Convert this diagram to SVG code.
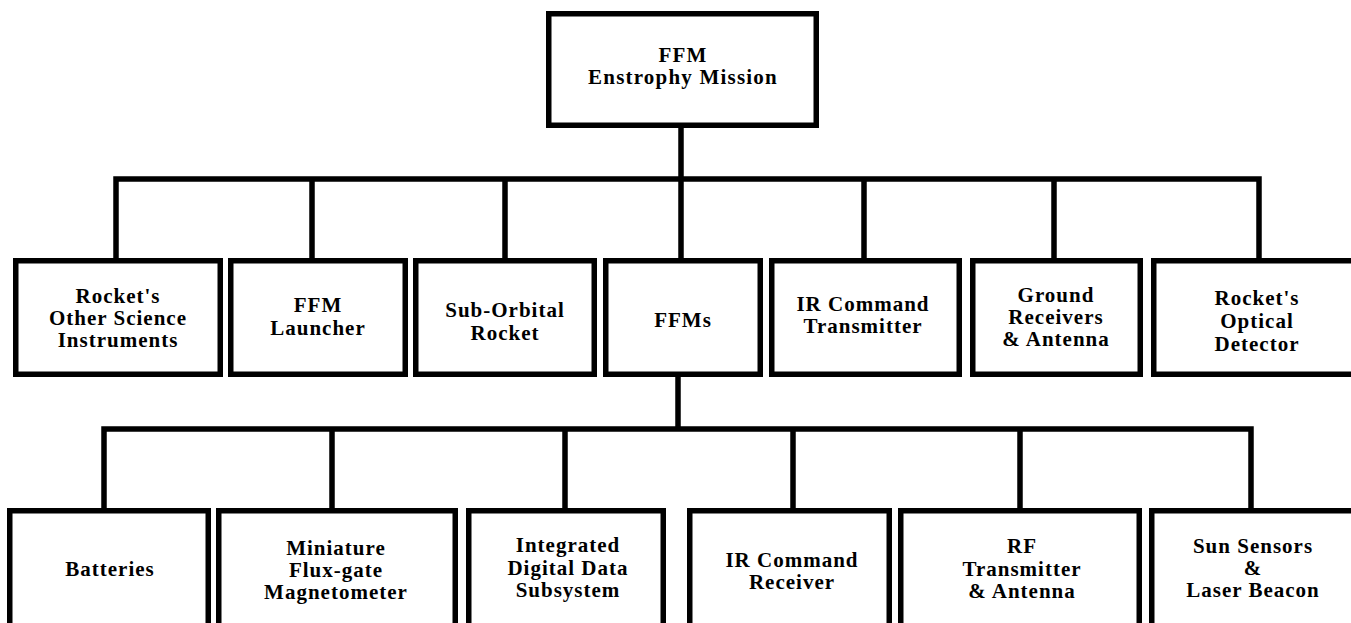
<svg xmlns="http://www.w3.org/2000/svg" width="1351" height="623" viewBox="0 0 1351 623">
<style>
.box{fill:#fff;stroke:#000;stroke-width:5.5}
.c{fill:none;stroke:#000;stroke-width:5.5;stroke-linejoin:miter}
text{font-family:"Liberation Serif","Times New Roman",serif;font-weight:bold;font-size:21px;text-anchor:middle;fill:#000;letter-spacing:1px}
.t{letter-spacing:1.2px}
</style>
<rect width="1351" height="623" fill="#fff"/>
<g id="connectors">
<path class="c" d="M681,128 V179 M116,258 V179 H1259 V258 M312,179 V258 M505,179 V258 M681,179 V258 M864,179 V258 M1054,179 V258"/>
<path class="c" d="M678,377 V429 M104,508 V429 H1251 V508 M332,429 V508 M565,429 V508 M793,429 V508 M1020,429 V508"/>
</g>
<g id="root">
<rect class="box" x="548.75" y="13.75" width="267.5" height="111.5"/>
<text class="t" x="683" y="62">FFM</text>
<text class="t" x="683" y="84">Enstrophy Mission</text>
</g>
<g id="n1">
<rect class="box" x="15.75" y="260.75" width="204.5" height="113.5"/>
<text x="118" y="303">Rocket's</text>
<text x="118" y="325">Other Science</text>
<text x="118" y="347">Instruments</text>
</g>
<g id="n2">
<rect class="box" x="230.75" y="260.75" width="174.5" height="113.5"/>
<text x="318" y="312">FFM</text>
<text x="318" y="335">Launcher</text>
</g>
<g id="n3">
<rect class="box" x="415.75" y="260.75" width="178.5" height="113.5"/>
<text x="505" y="317">Sub-Orbital</text>
<text x="505" y="340">Rocket</text>
</g>
<g id="n4">
<rect class="box" x="605.75" y="260.75" width="154.5" height="113.5"/>
<text x="683" y="327">FFMs</text>
</g>
<g id="n5">
<rect class="box" x="771.75" y="260.75" width="187.5" height="113.5"/>
<text x="863" y="311">IR Command</text>
<text x="863" y="333">Transmitter</text>
</g>
<g id="n6">
<rect class="box" x="972.75" y="260.75" width="167.5" height="113.5"/>
<text x="1056" y="302">Ground</text>
<text x="1056" y="324">Receivers</text>
<text x="1056" y="346">&amp; Antenna</text>
</g>
<g id="n7">
<rect class="box" x="1153.75" y="260.75" width="210" height="113.5"/>
<text x="1257" y="305">Rocket's</text>
<text x="1257" y="328">Optical</text>
<text x="1257" y="351">Detector</text>
</g>
<g id="b1">
<rect class="box" x="9.75" y="510.75" width="198.5" height="130"/>
<text x="110" y="576">Batteries</text>
</g>
<g id="b2">
<rect class="box" x="218.75" y="510.75" width="236.5" height="130"/>
<text x="336" y="555">Miniature</text>
<text x="336" y="577">Flux-gate</text>
<text x="336" y="599">Magnetometer</text>
</g>
<g id="b3">
<rect class="box" x="468.75" y="510.75" width="194.5" height="130"/>
<text x="568" y="552">Integrated</text>
<text x="568" y="575">Digital Data</text>
<text x="568" y="597">Subsystem</text>
</g>
<g id="b4">
<rect class="box" x="689.75" y="510.75" width="199.5" height="130"/>
<text x="792" y="567">IR Command</text>
<text x="792" y="589">Receiver</text>
</g>
<g id="b5">
<rect class="box" x="900.75" y="510.75" width="238.5" height="130"/>
<text x="1022" y="553">RF</text>
<text x="1022" y="576">Transmitter</text>
<text x="1022" y="598">&amp; Antenna</text>
</g>
<g id="b6">
<rect class="box" x="1151.75" y="510.75" width="210" height="130"/>
<text x="1253" y="553">Sun Sensors</text>
<text x="1253" y="575">&amp;</text>
<text x="1253" y="597">Laser Beacon</text>
</g>
</svg>
